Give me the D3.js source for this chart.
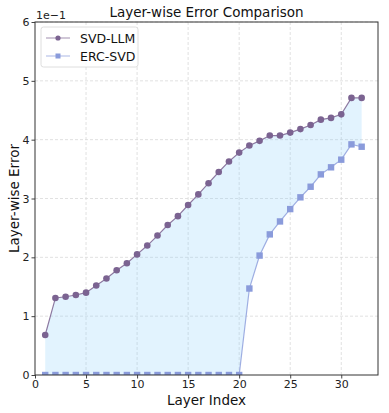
<!DOCTYPE html>
<html>
<head>
<meta charset="utf-8">
<script src="https://cdn.jsdelivr.net/npm/d3@7"></script>
<style>
  body { margin: 0; background: #fff; }
  svg { font-family: "DejaVu Sans", sans-serif; }
</style>
</head>
<body>
<div id="chart"></div>
<script>
// Layer indices and per-layer errors (real values, axis shows them in units of 1e-1)
const layers = d3.range(1, 33);
const svdLlm = [0.068, 0.131, 0.133, 0.136, 0.140, 0.152, 0.164, 0.178, 0.190, 0.205,
                0.220, 0.237, 0.255, 0.270, 0.289, 0.307, 0.326, 0.345, 0.363, 0.378,
                0.390, 0.398, 0.407, 0.407, 0.412, 0.418, 0.425, 0.434, 0.437, 0.443,
                0.471, 0.471];
const ercSvd = [0, 0, 0, 0, 0, 0, 0, 0, 0, 0,
                0, 0, 0, 0, 0, 0, 0, 0, 0, 0,
                0.147, 0.203, 0.239, 0.261, 0.282, 0.302, 0.320, 0.341, 0.353, 0.366,
                0.392, 0.388];
const seriesNames = ['SVD-LLM', 'ERC-SVD'];
const xTicks = [0, 5, 10, 15, 20, 25, 30];
const yTicks = [0, 0.1, 0.2, 0.3, 0.4, 0.5, 0.6];

const W = 389, H = 413;
const margin = { top: 22, right: 11, bottom: 38, left: 35 };
const iw = W - margin.left - margin.right;
const ih = H - margin.top - margin.bottom;

const colSvd = '#7b6391', colErc = '#8a9bdb';

const svg = d3.select('#chart').append('svg')
    .attr('width', W).attr('height', H);

const x = d3.scaleLinear().domain([0, 33.6]).range([0, iw]);
const y = d3.scaleLinear().domain([0, 0.6]).range([ih, 0]);

const g = svg.append('g').attr('transform', `translate(${margin.left},${margin.top})`);

g.append('clipPath').attr('id', 'clip')
    .append('rect').attr('width', iw).attr('height', ih);

// grid
g.append('g').selectAll('line.gx').data(xTicks.slice(1)).enter().append('line')
    .attr('x1', d => x(d)).attr('x2', d => x(d)).attr('y1', 0).attr('y2', ih)
    .attr('stroke', '#d9d9d9').attr('stroke-width', 0.8).attr('stroke-dasharray', '3,2');
g.append('g').selectAll('line.gy').data(yTicks.slice(1)).enter().append('line')
    .attr('x1', 0).attr('x2', iw).attr('y1', d => y(d)).attr('y2', d => y(d))
    .attr('stroke', '#d9d9d9').attr('stroke-width', 0.8).attr('stroke-dasharray', '3,2');

const plot = g.append('g').attr('clip-path', 'url(#clip)');

// fill between the two curves
const area = d3.area()
    .x((d, i) => x(layers[i]))
    .y0((d, i) => y(ercSvd[i]))
    .y1(d => y(d));
plot.append('path').datum(svdLlm)
    .attr('d', area)
    .attr('fill', '#87cefa').attr('fill-opacity', 0.24);

const line = d3.line().x((d, i) => x(layers[i])).y(d => y(d));

// ERC-SVD
plot.append('path').datum(ercSvd).attr('d', line)
    .attr('fill', 'none').attr('stroke', colErc).attr('stroke-opacity', 0.8).attr('stroke-width', 1.2);
plot.selectAll('rect.erc').data(ercSvd).enter().append('rect')
    .attr('x', (d, i) => x(layers[i]) - 3.2).attr('y', d => y(d) - 3.2)
    .attr('width', 6.4).attr('height', 6.4)
    .attr('fill', colErc);

// SVD-LLM
plot.append('path').datum(svdLlm).attr('d', line)
    .attr('fill', 'none').attr('stroke', colSvd).attr('stroke-opacity', 0.85).attr('stroke-width', 1.2);
plot.selectAll('circle.svd').data(svdLlm).enter().append('circle')
    .attr('cx', (d, i) => x(layers[i])).attr('cy', d => y(d)).attr('r', 3.3)
    .attr('fill', colSvd);

// axes
const xAxis = g.append('g').attr('transform', `translate(0,${ih})`)
    .call(d3.axisBottom(x).tickValues(xTicks).tickSize(3.5).tickPadding(2));
const yAxis = g.append('g')
    .call(d3.axisLeft(y).tickValues(yTicks).tickSize(3.5).tickPadding(2)
        .tickFormat(d => d3.format('d')(Math.round(d * 10))));
[xAxis, yAxis].forEach(a => {
    a.select('.domain').remove();
    a.selectAll('text').attr('font-size', 11).attr('fill', '#222')
        .attr('font-family', '"DejaVu Sans", sans-serif');
    a.selectAll('line').attr('stroke', '#444');
});

// frame
g.append('rect').attr('width', iw).attr('height', ih)
    .attr('fill', 'none').attr('stroke', '#333').attr('stroke-width', 1);

// title, labels, offset text
svg.append('text').attr('x', margin.left + iw / 2).attr('y', 17)
    .attr('text-anchor', 'middle').attr('font-size', 13.5).attr('fill', '#111')
    .text('Layer-wise Error Comparison');
svg.append('text').attr('x', margin.left + 1).attr('y', 19)
    .attr('font-size', 11).attr('fill', '#222').text('1e\u22121');
svg.append('text').attr('x', margin.left + iw / 2).attr('y', 405)
    .attr('text-anchor', 'middle').attr('font-size', 13.5).attr('fill', '#111')
    .text('Layer Index');
svg.append('text')
    .attr('transform', `translate(19,${margin.top + ih / 2}) rotate(-90)`)
    .attr('text-anchor', 'middle').attr('font-size', 13.5).attr('fill', '#111')
    .text('Layer-wise Error');

// legend
const leg = g.append('g').attr('transform', 'translate(6,5)');
leg.append('rect').attr('width', 97).attr('height', 40).attr('rx', 2.5)
    .attr('fill', '#fff').attr('fill-opacity', 0.85)
    .attr('stroke', '#d6d6d6').attr('stroke-width', 0.8);
seriesNames.forEach((name, i) => {
    const yy = 11 + i * 18;
    const col = i === 0 ? colSvd : colErc;
    leg.append('line').attr('x1', 5).attr('x2', 29).attr('y1', yy).attr('y2', yy)
        .attr('stroke', col).attr('stroke-opacity', 0.6).attr('stroke-width', 1.2);
    if (i === 0) {
        leg.append('circle').attr('cx', 17).attr('cy', yy).attr('r', 2.6).attr('fill', col);
    } else {
        leg.append('rect').attr('x', 14.5).attr('y', yy - 2.5).attr('width', 5).attr('height', 5).attr('fill', col);
    }
    leg.append('text').attr('x', 39).attr('y', yy + 4.5)
        .attr('font-size', 12.5).attr('fill', '#111').text(name);
});
</script>
</body>
</html>
